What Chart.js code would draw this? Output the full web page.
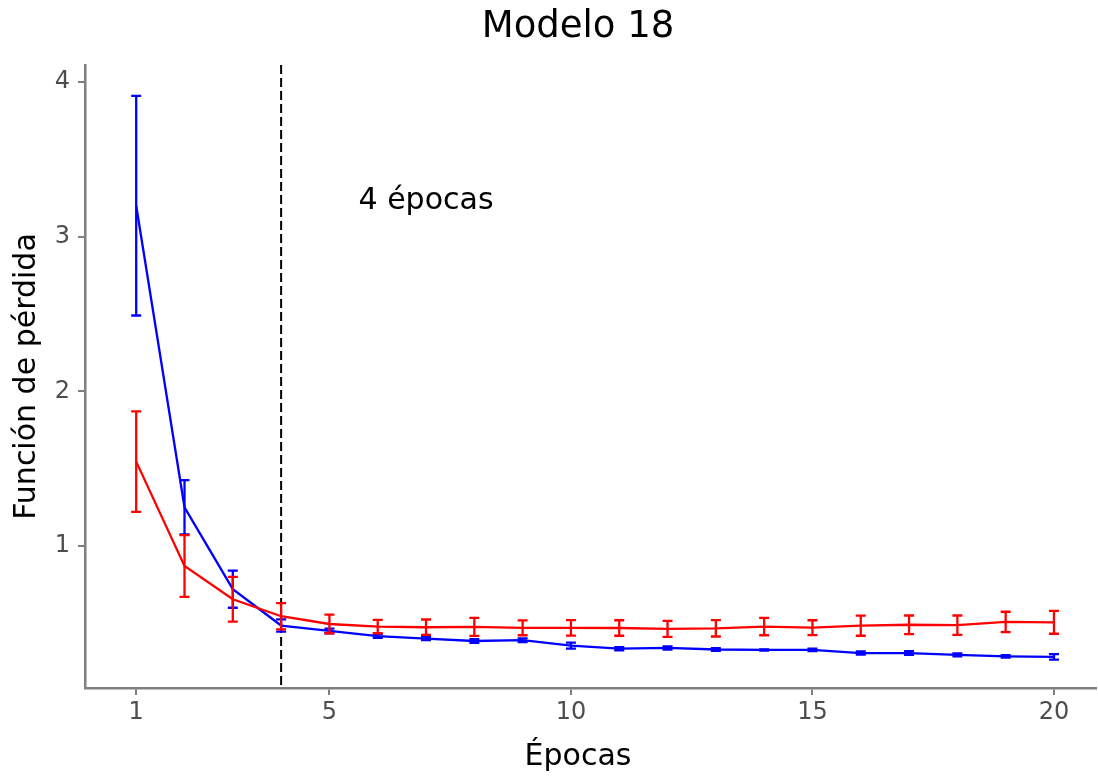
<!DOCTYPE html>
<html>
<head>
<meta charset="utf-8">
<script src="https://cdn.jsdelivr.net/npm/chart.js@4"></script>
<style>
  html, body { margin: 0; padding: 0; background: #fff; }
  #wrap { width: 1098px; height: 776px; }
</style>
</head>
<body>
<div id="wrap"><canvas id="lossChart"></canvas></div>
<script>
const epochs = [1, 2, 3, 4, 5, 6, 7, 8, 9, 10, 11, 12, 13, 14, 15, 16, 17, 18, 19, 20];

// blue series (mean and standard deviation)
const blueMean = [3.20, 1.25, 0.72, 0.485, 0.45, 0.417, 0.40, 0.385, 0.39, 0.355, 0.335, 0.34, 0.33, 0.327, 0.327, 0.307, 0.307, 0.295, 0.286, 0.282];
const blueSd = [0.71, 0.175, 0.12, 0.04, 0.015, 0.012, 0.01, 0.012, 0.012, 0.02, 0.01, 0.01, 0.008, 0.004, 0.008, 0.01, 0.012, 0.01, 0.008, 0.018];

// red series
const redMean = [1.545, 0.87, 0.655, 0.545, 0.495, 0.478, 0.474, 0.476, 0.47, 0.47, 0.469, 0.463, 0.467, 0.478, 0.471, 0.484, 0.49, 0.487, 0.508, 0.506];
const redSd = [0.325, 0.20, 0.145, 0.085, 0.06, 0.043, 0.05, 0.058, 0.048, 0.05, 0.05, 0.052, 0.053, 0.056, 0.048, 0.065, 0.06, 0.063, 0.066, 0.074];

const xTicks = [1, 5, 10, 15, 20];
const yTicks = [1, 2, 3, 4];

const cutEpoch = 4;
const cutLabel = '4 épocas';
const cutLabelPos = { x: 7.0, y: 3.227 };

const titleText = 'Modelo 18';
const xTitle = 'Épocas';

const FONT = "'DejaVu Sans', sans-serif";
const AXIS_GREY = '#7f7f7f';

function points(mean) {
  return epochs.map((e, i) => ({ x: e, y: mean[i] }));
}

// draws error bars, the dashed cut line and the annotation
const extras = {
  id: 'extras',
  afterDatasetsDraw(chart) {
    const { ctx, chartArea, scales: { x, y } } = chart;
    ctx.save();
    ctx.beginPath();
    ctx.rect(chartArea.left, chartArea.top, chartArea.right - chartArea.left, chartArea.bottom - chartArea.top);
    ctx.clip();

    // dashed line
    const vx = x.getPixelForValue(cutEpoch);
    ctx.strokeStyle = '#000';
    ctx.lineWidth = 2;
    ctx.setLineDash([9, 4]);
    ctx.beginPath();
    ctx.moveTo(vx, chartArea.top);
    ctx.lineTo(vx, chartArea.bottom);
    ctx.stroke();
    ctx.setLineDash([]);

    const bars = [
      { mean: blueMean, sd: blueSd, color: '#0000ff' },
      { mean: redMean, sd: redSd, color: '#ff0000' }
    ];
    bars.forEach(s => {
      ctx.strokeStyle = s.color;
      ctx.lineWidth = 2.3;
      epochs.forEach((e, i) => {
        const px = x.getPixelForValue(e);
        const top = y.getPixelForValue(s.mean[i] + s.sd[i]);
        const bot = y.getPixelForValue(s.mean[i] - s.sd[i]);
        ctx.beginPath();
        ctx.moveTo(px, top);
        ctx.lineTo(px, bot);
        ctx.moveTo(px - 5, top);
        ctx.lineTo(px + 5, top);
        ctx.moveTo(px - 5, bot);
        ctx.lineTo(px + 5, bot);
        ctx.stroke();
      });
    });

    ctx.fillStyle = '#000';
    ctx.font = '30px ' + FONT;
    ctx.textAlign = 'center';
    ctx.textBaseline = 'middle';
    ctx.fillText(cutLabel, x.getPixelForValue(cutLabelPos.x), y.getPixelForValue(cutLabelPos.y));
    ctx.restore();
  },
  afterDraw(chart) {
    // plot title and x axis title, centred like the reference
    const { ctx } = chart;
    ctx.save();
    ctx.fillStyle = '#000';
    ctx.textAlign = 'center';
    ctx.textBaseline = 'middle';
    ctx.font = '37px ' + FONT;
    ctx.fillText(titleText, 578, 27);
    ctx.font = '30px ' + FONT;
    ctx.fillText(xTitle, 578, 757);
    ctx.restore();
  }
};

const ctx = document.getElementById('lossChart').getContext('2d');
new Chart(ctx, {
  type: 'line',
  data: {
    datasets: [
      {
        label: 'Entrenamiento',
        data: points(blueMean),
        borderColor: '#0000ff',
        borderWidth: 2.3,
        pointRadius: 0,
        tension: 0,
        order: 2
      },
      {
        label: 'Validación',
        data: points(redMean),
        borderColor: '#ff0000',
        borderWidth: 2.3,
        pointRadius: 0,
        tension: 0,
        order: 1
      }
    ]
  },
  options: {
    responsive: true,
    maintainAspectRatio: false,
    animation: false,
    layout: { padding: { left: 0, right: 2, top: 65, bottom: 0 } },
    plugins: {
      legend: { display: false },
      tooltip: { enabled: false },
      title: { display: false }
    },
    scales: {
      x: {
        type: 'linear',
        min: -0.06,
        max: 20.87,
        afterBuildTicks: s => { s.ticks = xTicks.map(v => ({ value: v })); },
        afterFit: s => { s.height = 88; },
        ticks: {
          color: '#4d4d4d',
          font: { family: FONT, size: 24 },
          padding: 3,
          maxRotation: 0
        },
        grid: { drawOnChartArea: false, drawTicks: true, tickLength: 7, color: AXIS_GREY, lineWidth: 2 },
        border: { color: AXIS_GREY, width: 2.5 },
        title: { display: false }
      },
      y: {
        type: 'linear',
        min: 0.081,
        max: 4.11,
        afterBuildTicks: s => { s.ticks = yTicks.map(v => ({ value: v })); },
        afterFit: s => { s.width = 85; },
        ticks: {
          color: '#4d4d4d',
          font: { family: FONT, size: 24 },
          padding: 8
        },
        grid: { drawOnChartArea: false, drawTicks: true, tickLength: 7, color: AXIS_GREY, lineWidth: 2 },
        border: { color: AXIS_GREY, width: 2.5 },
        title: {
          display: true,
          text: 'Función de pérdida',
          color: '#000',
          font: { family: FONT, size: 30, lineHeight: 1.2 },
          padding: { top: 9, bottom: 0 }
        }
      }
    }
  },
  plugins: [extras]
});
</script>
</body>
</html>
